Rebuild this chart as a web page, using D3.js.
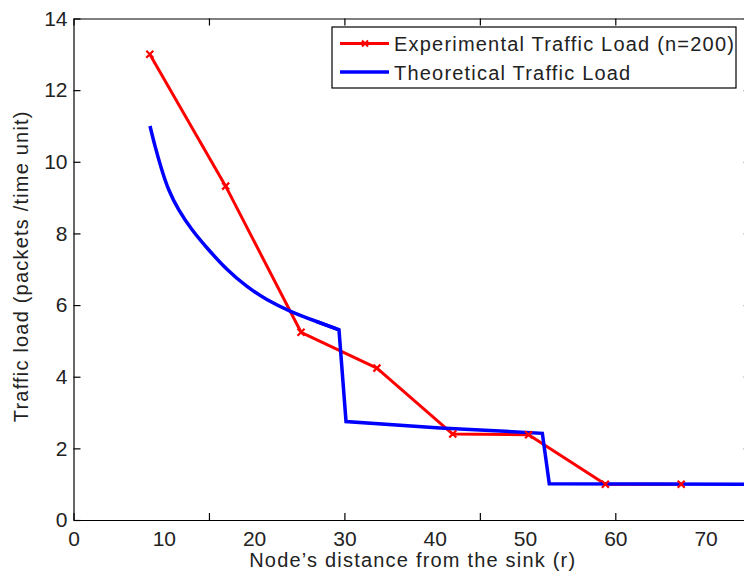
<!DOCTYPE html>
<html>
<head>
<meta charset="utf-8">
<script src="https://cdn.jsdelivr.net/npm/d3@7"></script>
<style>
  body { margin: 0; background: #fff; }
  svg { display: block; font-family: "Liberation Sans", Arial, Helvetica, sans-serif; }
  .axis text { font-size: 21px; fill: #222; }
  .axis path, .axis line { stroke: #000; stroke-width: 1.2; }
  .title { font-size: 20px; letter-spacing: 1.2px; fill: #222; }
</style>
</head>
<body>
<div id="chart"></div>
<script>
// experimental load, one point per ring
const EXP_R    = [8.45, 16.85, 25.2, 33.6, 42.0, 50.4, 58.9, 67.3];
const EXP_LOAD = [13.0, 9.32, 5.24, 4.24, 2.40, 2.38, 1.0, 1.0];

// theoretical load: smooth part, then the steps
const THEORY_CURVE_R    = [8.47, 9.03, 9.77, 10.5, 11.6, 13.09, 14.75, 16.97, 19.18, 21.4, 23.98, 26.93, 29.4];
const THEORY_CURVE_LOAD = [11.0, 10.42, 9.77, 9.21, 8.66, 8.1, 7.6, 6.98, 6.51, 6.14, 5.82, 5.54, 5.31];
const THEORY_STEP_R     = [26.93, 29.4, 30.18, 40.6, 51.92, 52.69, 75];
const THEORY_STEP_LOAD  = [5.54, 5.31, 2.75, 2.57, 2.42, 1.01, 1.0];

const X_TICK_MARKS  = [0, 15, 30, 45, 60, 75];
const X_TICK_LABELS = [0, 10, 20, 30, 40, 50, 60, 70];
const Y_TICKS       = [0, 2, 4, 6, 8, 10, 12, 14];

const SERIES_NAMES = ['Experimental Traffic Load (n=200)', 'Theoretical Traffic Load'];

const width = 744, height = 577;
const m = { top: 18.5, left: 73.5, bottom: 57 };

const svg = d3.select('#chart').append('svg')
  .attr('width', width)
  .attr('height', height);

const x = d3.scaleLinear().domain([0, 75]).range([m.left, m.left + 75 * 9.03]);
const y = d3.scaleLinear().domain([0, 14]).range([height - m.bottom, m.top]);

// box + ticks, matlab style (ticks inside)
svg.append('g').attr('class', 'axis')
  .attr('transform', 'translate(0,' + y(0) + ')')
  .call(d3.axisBottom(x).tickValues(X_TICK_MARKS).tickSize(-7).tickSizeOuter(0).tickFormat(''));

svg.append('g').attr('class', 'axis')
  .attr('transform', 'translate(0,' + y(0) + ')')
  .call(d3.axisBottom(x).tickValues(X_TICK_LABELS).tickSize(0).tickPadding(11).tickFormat(d3.format('d')))
  .call(g => g.select('.domain').remove());

svg.append('g').attr('class', 'axis')
  .attr('transform', 'translate(0,' + y(14) + ')')
  .call(d3.axisTop(x).tickValues(X_TICK_MARKS).tickSize(-7).tickSizeOuter(0).tickFormat(''));

svg.append('g').attr('class', 'axis')
  .attr('transform', 'translate(' + x(0) + ',0)')
  .call(d3.axisLeft(y).tickValues(Y_TICKS).tickSize(-7).tickSizeOuter(0).tickPadding(6));

svg.append('g').attr('class', 'axis')
  .attr('transform', 'translate(' + x(75) + ',0)')
  .call(d3.axisRight(y).tickValues(Y_TICKS).tickSize(-7).tickSizeOuter(0).tickFormat(''));

const line = d3.line()
  .x(d => x(d[0]))
  .y(d => y(d[1]));

const zip = (a, b) => a.map((v, i) => [v, b[i]]);
const exper = zip(EXP_R, EXP_LOAD);

svg.append('path')
  .datum(exper)
  .attr('d', line)
  .attr('fill', 'none')
  .attr('stroke', '#ff0000')
  .attr('stroke-width', 3)
  .attr('stroke-linejoin', 'round');

svg.append('path')
  .datum(zip(THEORY_CURVE_R, THEORY_CURVE_LOAD))
  .attr('d', line.curve(d3.curveBasis))
  .attr('fill', 'none')
  .attr('stroke', '#0000ff')
  .attr('stroke-width', 3.5);

svg.append('path')
  .datum(zip(THEORY_STEP_R, THEORY_STEP_LOAD))
  .attr('d', line.curve(d3.curveLinear))
  .attr('fill', 'none')
  .attr('stroke', '#0000ff')
  .attr('stroke-width', 3.5);

const cross = (cx, cy, s) =>
  'M' + (cx - s) + ',' + (cy - s) + 'L' + (cx + s) + ',' + (cy + s) +
  'M' + (cx - s) + ',' + (cy + s) + 'L' + (cx + s) + ',' + (cy - s);

svg.append('g').selectAll('path')
  .data(exper)
  .enter().append('path')
  .attr('d', d => cross(x(d[0]), y(d[1]), 3.5))
  .attr('stroke', '#ff0000')
  .attr('stroke-width', 2.2);

// axis titles
svg.append('text')
  .attr('class', 'title')
  .attr('x', (x(0) + width) / 2 + 4)
  .attr('y', 567)
  .attr('text-anchor', 'middle')
  .text("Node\u2019s distance from the sink (r)");

svg.append('text')
  .attr('class', 'title')
  .attr('transform', 'translate(28,' + ((y(0) + y(14)) / 2 - 3) + ') rotate(-90)')
  .attr('text-anchor', 'middle')
  .text('Traffic load (packets /time unit)');

// legend
const lg = svg.append('g').attr('transform', 'translate(332,27)');
lg.append('rect')
  .attr('width', 404).attr('height', 61)
  .attr('fill', '#fff').attr('stroke', '#000').attr('stroke-width', 1.2);

const colors = ['#ff0000', '#0000ff'];
SERIES_NAMES.forEach((name, i) => {
  const ly = 16.5 + i * 28.5;
  lg.append('line')
    .attr('x1', 8).attr('x2', 57).attr('y1', ly).attr('y2', ly)
    .attr('stroke', colors[i]).attr('stroke-width', i ? 3.5 : 3);
  if (i === 0) {
    lg.append('path').attr('d', cross(33, ly, 3)).attr('stroke', colors[i]).attr('stroke-width', 2);
  }
  lg.append('text')
    .attr('class', 'title')
    .attr('x', 62).attr('y', ly + 7.5)
    .text(name);
});
</script>
</body>
</html>
